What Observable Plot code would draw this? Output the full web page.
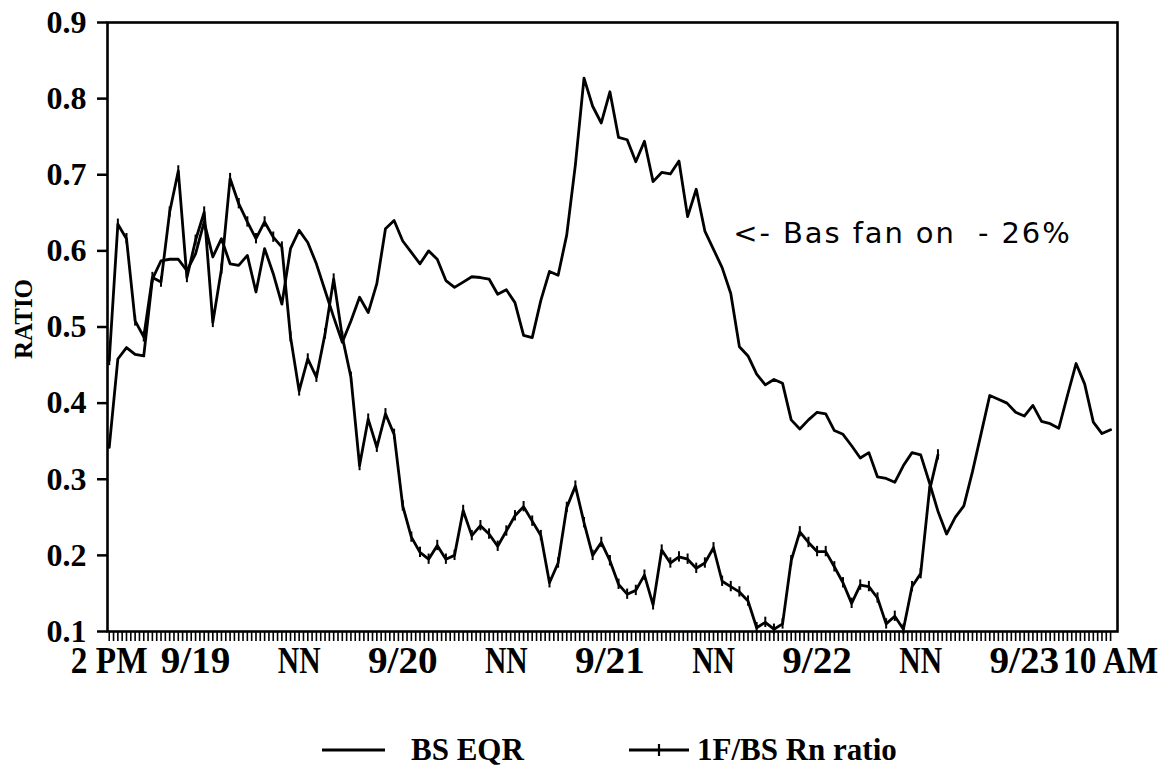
<!DOCTYPE html>
<html><head><meta charset="utf-8">
<script src="https://cdn.jsdelivr.net/npm/d3@7"></script>
<script src="https://cdn.jsdelivr.net/npm/@observablehq/plot@0.6"></script>
<style>
body{margin:0;background:#fff;}
#wrap{position:relative;width:1169px;height:770px;background:#fff;}
</style></head>
<body><div id="wrap"><div id="chart"></div><div id="legend"></div></div>
<script>
// Hours since 2 PM 9/18
const bsHours = d3.range(0, 117);
const bsEqr = [
0.342,0.458,0.473,0.464,0.462,0.563,0.587,0.589,0.589,0.574,
0.596,0.638,0.592,0.616,0.583,0.581,0.594,0.546,0.603,0.570,
0.530,0.603,0.627,0.611,0.583,0.548,0.513,0.480,0.508,0.539,
0.519,0.557,0.629,0.640,0.613,0.598,0.583,0.600,0.589,0.561,
0.552,0.559,0.566,0.565,0.563,0.543,0.549,0.532,0.489,0.486,
0.535,0.573,0.568,0.621,0.713,0.827,0.790,0.768,0.809,0.749,
0.746,0.717,0.744,0.691,0.703,0.701,0.718,0.645,0.681,0.626,
0.602,0.578,0.544,0.474,0.462,0.438,0.424,0.431,0.426,0.378,
0.366,0.378,0.388,0.386,0.364,0.359,0.344,0.328,0.335,0.303,
0.301,0.296,0.318,0.335,0.332,0.296,0.258,0.228,0.250,0.265,
0.310,0.360,0.410,0.405,0.400,0.388,0.383,0.397,0.376,0.373,
0.367,0.410,0.452,0.425,0.375,0.360,0.365];
const rnHours = d3.range(0, 97);
const rnRatio = [
0.456,0.635,0.616,0.508,0.487,0.565,0.559,0.651,0.705,0.565,
0.614,0.651,0.506,0.576,0.695,0.662,0.638,0.616,0.638,0.618,
0.605,0.487,0.416,0.458,0.434,0.491,0.563,0.487,0.434,0.318,
0.379,0.342,0.386,0.359,0.265,0.224,0.204,0.195,0.213,0.195,
0.200,0.259,0.226,0.239,0.228,0.212,0.232,0.252,0.264,0.245,
0.226,0.164,0.190,0.263,0.291,0.243,0.200,0.217,0.193,0.162,
0.149,0.154,0.174,0.135,0.207,0.190,0.198,0.195,0.183,0.190,
0.210,0.166,0.159,0.152,0.140,0.105,0.112,0.103,0.110,0.193,
0.231,0.217,0.205,0.205,0.185,0.164,0.137,0.161,0.159,0.144,
0.110,0.120,0.103,0.159,0.176,0.284,0.332];
const yTicks = [0.1,0.2,0.3,0.4,0.5,0.6,0.7,0.8,0.9];
const xLabelHours = [0,10,22,34,46,58,70,82,94,106,116];
const xLabels = ["2 PM","9/19","NN","9/20","NN","9/21","NN","9/22","NN","9/23","10 AM"];
const minorTicks = d3.range(0, 116.5, 0.5);
const noteText = ["<- Bas fan on\u00a0\u00a0- 26%"];
const noteHour = [72.3];
const noteValue = [0.623];
const yLabel = "RATIO";
const legendLabels = ["BS EQR", "1F/BS Rn ratio"];

const bs = bsHours.map((h,i)=>({h, v: bsEqr[i]}));
const rn = rnHours.map((h,i)=>({h, v: rnRatio[i]}));
const labelMap = new Map(xLabelHours.map((h,i)=>[h, xLabels[i]]));

const serif = "'Liberation Serif', 'Times New Roman', serif";
const plot = Plot.plot({
  width: 1169, height: 700,
  marginLeft: 107, marginRight: 52, marginTop: 22, marginBottom: 69,
  x: {domain: [-0.2, 116.8]},
  y: {domain: [0.1, 0.9]},
  style: {fontFamily: serif, fontWeight: "bold", color: "black", background: "white", overflow: "visible"},
  marks: [
    Plot.frame({stroke: "black", strokeWidth: 2.6}),
    Plot.axisY({ticks: yTicks, tickSize: 10, tickPadding: 11, tickFormat: d => d.toFixed(1), fontSize: 32, strokeWidth: 2.5, label: null}),
    Plot.text([yLabel], {frameAnchor: "left", textAnchor: "middle", dx: -84, dy: -8, rotate: -90, fontSize: 25, fontFamily: serif, fontWeight: "bold"}),
    Plot.axisX({ticks: minorTicks, tickSize: 10, tickFormat: () => "", strokeWidth: 1.6, label: null}),
    Plot.axisX({ticks: xLabelHours, tickSize: 0, tickPadding: 15, tickFormat: d => labelMap.get(d), fontSize: 37, label: null}),
    Plot.line(bs, {x: "h", y: "v", stroke: "black", strokeWidth: 2.8}),
    Plot.line(rn, {x: "h", y: "v", stroke: "black", strokeWidth: 2.8}),
    Plot.ruleX(rn, {x: "h", y1: d => d.v - 0.0068, y2: d => d.v + 0.0068, stroke: "black", strokeWidth: 2}),
    Plot.text(noteText, {x: (d,i) => noteHour[i], y: (d,i) => noteValue[i], textAnchor: "start", fontFamily: "'DejaVu Sans', sans-serif", fontWeight: "normal", fontSize: 29})
  ]
});
document.getElementById("chart").appendChild(plot);

// condensed letters / wider digits for the x tick labels, letter spacing for the note
d3.select(plot).selectAll("text").each(function() {
  const t = this.textContent;
  if (xLabels.includes(t)) {
    const tr = this.getAttribute("transform") || "";
    const s = /\//.test(t) ? 1.06 : (t === "NN" ? 0.8 : 0.9);
    this.setAttribute("transform", tr + ` scale(${s},1)`);
  }
  if (t === noteText[0]) this.setAttribute("letter-spacing", "1.9");
});

// Legend below the chart
const lg = d3.select("#legend").append("svg").attr("width", 1169).attr("height", 70)
  .style("display","block").style("font-family", serif).style("font-weight","bold").style("font-size","31px");
lg.append("line").attr("x1",322).attr("x2",385).attr("y1",50).attr("y2",50).attr("stroke","black").attr("stroke-width",2.8);
lg.append("text").attr("x",411).attr("y",60).text(legendLabels[0]);
lg.append("line").attr("x1",629).attr("x2",689).attr("y1",50).attr("y2",50).attr("stroke","black").attr("stroke-width",2.8);
lg.append("line").attr("x1",659).attr("x2",659).attr("y1",44).attr("y2",56).attr("stroke","black").attr("stroke-width",2.2);
lg.append("text").attr("x",697).attr("y",60).text(legendLabels[1]);
</script>
</body></html>
